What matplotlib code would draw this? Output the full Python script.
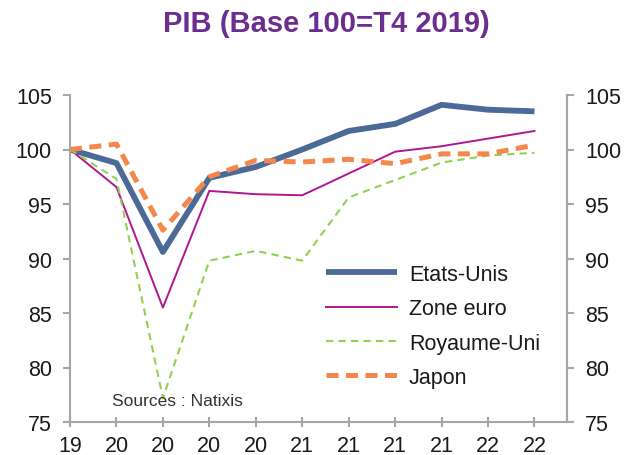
import matplotlib.pyplot as plt

plt.rcParams['font.family'] = ['Liberation Sans', 'DejaVu Sans']

# Trimestres (T4 2019 -> T2 2022), libelles = annee sur 2 chiffres
x_labels = ["19", "20", "20", "20", "20", "21", "21", "21", "21", "22", "22"]

etats_unis = [100.0, 98.75, 90.6, 97.4, 98.4, 100.0, 101.7, 102.35, 104.1, 103.65, 103.5]
zone_euro = [100.0, 96.55, 85.5, 96.2, 95.9, 95.8, 97.8, 99.8, 100.3, 101.0, 101.7]
royaume_uni = [100.0, 97.3, 77.2, 89.8, 90.7, 89.8, 95.6, 97.2, 98.8, 99.45, 99.7]
japon = [100.0, 100.5, 92.6, 97.5, 99.0, 98.85, 99.1, 98.7, 99.6, 99.6, 100.4]

y_ticks = [75, 80, 85, 90, 95, 100, 105]

spine_col = "#A6A6A6"
txt_col = "#1A1A1A"

fig = plt.figure(figsize=(6.27, 4.56), dpi=100)
ax = fig.add_axes([70 / 627, 1 - 423 / 456, 497 / 627, 327 / 456])

xs = list(range(len(x_labels)))
ax.plot(xs, etats_unis, color="#4C6A97", lw=4.2, label="Etats-Unis",
        solid_capstyle="butt")
ax.plot(xs, zone_euro, color="#B0178E", lw=1.4, label="Zone euro")
ax.plot(xs, royaume_uni, color="#92D050", lw=1.5, ls=(0, (3.5, 2.5)),
        label="Royaume-Uni")
ax.plot(xs, japon, color="#F4874B", lw=3.6, ls=(0, (2.4, 1.5)),
        label="Japon")

ax.set_xlim(0, 10.7)
ax.set_ylim(75, 105)
ax.set_xticks(xs)
ax.set_xticklabels(x_labels)
ax.set_yticks(y_ticks)

for s in ["left", "bottom", "right"]:
    ax.spines[s].set_color(spine_col)
    ax.spines[s].set_linewidth(1.5)
ax.spines["top"].set_visible(False)

ax.tick_params(axis="y", direction="out", length=5, width=1.5, color=spine_col,
               labelsize=15.5, labelcolor=txt_col, pad=8)
ax.tick_params(axis="x", direction="inout", length=7, width=1.5, color=spine_col,
               labelsize=15.5, labelcolor=txt_col, pad=6)

ax2 = ax.twinx()
ax2.set_ylim(75, 105)
ax2.set_yticks(y_ticks)
for s in ["left", "bottom", "top"]:
    ax2.spines[s].set_visible(False)
ax2.spines["right"].set_color(spine_col)
ax2.spines["right"].set_linewidth(1.5)
ax2.tick_params(axis="y", direction="out", length=5, width=1.5, color=spine_col,
                labelsize=15.5, labelcolor=txt_col, pad=8)

fig.text(326 / 627, 1 - 24 / 456, "PIB (Base 100=T4 2019)", ha="center",
         va="center", fontsize=21, fontweight="bold", color="#6B2D8F")

ax.text(112 / 627, 1 - 402 / 456, "Sources : Natixis", transform=fig.transFigure,
        ha="left", va="center", fontsize=12.5, color="#333333")

leg = ax.legend(loc="center left", bbox_to_anchor=(326 / 627, 1 - 327 / 456),
                bbox_transform=fig.transFigure, frameon=False, fontsize=15.5,
                handlelength=3.3, handletextpad=0.55, labelspacing=0.62,
                borderpad=0, borderaxespad=0)
for t in leg.get_texts():
    t.set_color(txt_col)

fig.savefig("out.png", dpi=100)
